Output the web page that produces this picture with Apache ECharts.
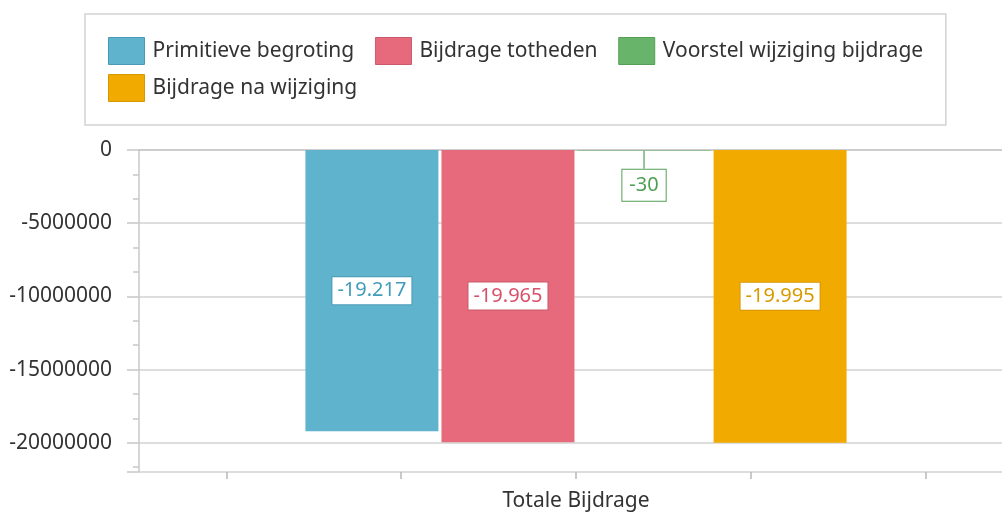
<!DOCTYPE html>
<html>
<head>
<meta charset="utf-8">
<script src="https://cdn.jsdelivr.net/npm/echarts@6/dist/echarts.min.js"></script>
<style>
  html, body { margin: 0; padding: 0; background: #fff; overflow: hidden; }
  /* plot runs a little past the right window edge, like the original */
  #chartWrap { width: 1013px; height: 514px; }
</style>
</head>
<body>
<div id="chartWrap"></div>
<script>
// data
var categories = ['Totale Bijdrage'];
var seriesNames = ['Primitieve begroting', 'Bijdrage totheden', 'Voorstel wijziging bijdrage', 'Bijdrage na wijziging'];
var primitieve = [-19217000];
var totheden = [-19965000];
var voorstel = [-30000];
var naWijziging = [-19995000];
var tickSlots = ['', '', '', '', ''];

var colors = ['#5fb3cc', '#e66a7c', '#68b46b', '#f0aa00'];
var borders = ['#4a9bb6', '#c95a6c', '#55a058', '#d69700'];
var textColors = ['#3f9cbb', '#d9506a', '#4f9f52', '#d99a00'];
var FONT = 'Noto Sans';

// -19217000 -> "-19.217"
function fmtK(v) {
  var n = Math.round(v / 1000);
  var s = String(Math.abs(n)).replace(/\B(?=(\d{3})+(?!\d))/g, '.');
  return (n < 0 ? '-' : '') + s;
}

function makeLabel(i) {
  return {
    show: true,
    position: 'inside',
    formatter: function (p) { return fmtK(p.value); },
    fontFamily: FONT,
    fontSize: 20,
    color: textColors[i],
    backgroundColor: '#fff',
    borderColor: borders[i],
    borderWidth: 1,
    padding: i == 2 ? [6, 7, 5, 7] : [4, 5, 3, 5]
  };
}

var dataSets = [primitieve, totheden, voorstel, naWijziging];
var series = [];
for (var i = 0; i < dataSets.length; i++) {
  var s = {
    name: seriesNames[i],
    type: 'bar',
    xAxisIndex: 0,
    barWidth: 133,
    barGap: '2.3%',
    itemStyle: { color: colors[i] },
    label: makeLabel(i),
    data: dataSets[i]
  };
  if (i == 2) {
    // small value: label pushed below with a guide line
    s.labelLayout = { dy: 35 };
    s.labelLine = { show: true, lineStyle: { color: borders[i], width: 1.2 } };
  }
  series.push(s);
}

var legendData = [];
for (var j = 0; j < seriesNames.length; j++) {
  legendData.push({ name: seriesNames[j], itemStyle: { borderColor: borders[j], borderWidth: 1 } });
}

var myChart = echarts.init(document.getElementById('chartWrap'));
myChart.setOption({
  animation: false,
  legend: {
    data: legendData,
    left: 85,
    top: 14,
    width: 840,
    padding: [23, 11, 23, 23],
    backgroundColor: '#fff',
    borderColor: '#d2d2d2',
    borderWidth: 1.5,
    icon: 'rect',
    itemWidth: 36,
    itemHeight: 27,
    itemGap: 9,
    // trailing spaces widen the gap between items without widening rows
    formatter: function (name) { return '{t|' + name + '}{s|   }'; },
    textStyle: {
      fontFamily: FONT,
      fontSize: 21,
      color: '#333',
      rich: {
        t: { fontFamily: FONT, fontSize: 21, color: '#333', padding: [0, 0, 0, 3] },
        s: { fontFamily: FONT, fontSize: 15 }
      }
    }
  },
  grid: { left: 139, right: 0, top: 150, bottom: 42, containLabel: false },
  xAxis: [{
    type: 'category',
    data: categories,
    position: 'bottom',
    axisLine: { lineStyle: { color: '#c8c8c8', width: 1.5 } },
    axisTick: { show: false },
    axisLabel: { fontFamily: FONT, fontSize: 21, color: '#333', margin: 19 }
  }, {
    type: 'category',
    data: tickSlots,
    position: 'bottom',
    axisLine: { show: false },
    axisTick: { show: true, alignWithLabel: true, length: 7, lineStyle: { color: '#b8b8b8', width: 1.5 } },
    axisLabel: { show: false },
    splitLine: { show: false }
  }],
  yAxis: {
    type: 'value',
    min: -22000000,
    max: 0,
    splitNumber: 5,
    axisLine: { show: true, lineStyle: { color: '#c8c8c8', width: 1.5 } },
    axisTick: { show: true, length: 12, lineStyle: { color: '#c8c8c8', width: 1.5 } },
    minorTick: { show: true, splitNumber: 3, length: 6, lineStyle: { color: '#c8c8c8', width: 1.5 } },
    splitLine: { show: true, lineStyle: { color: '#d2d2d2', width: 1.5 } },
    axisLabel: {
      fontFamily: FONT,
      fontSize: 21,
      color: '#333',
      margin: 27,
      formatter: function (v) { return v % 5000000 === 0 ? String(v) : ''; }
    }
  },
  series: series
});
</script>
</body>
</html>
